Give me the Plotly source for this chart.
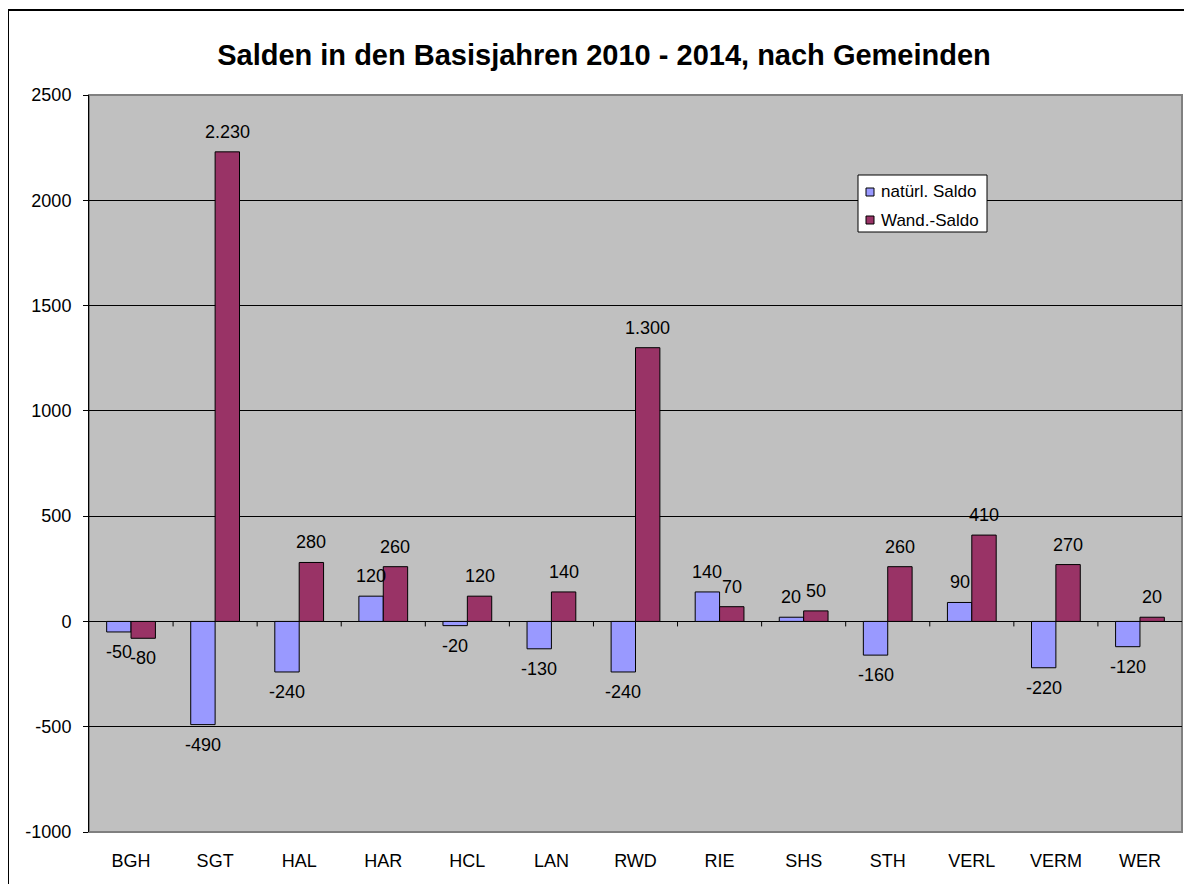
import plotly.graph_objects as go

categories = ["BGH", "SGT", "HAL", "HAR", "HCL", "LAN", "RWD", "RIE", "SHS", "STH", "VERL", "VERM", "WER"]
natuerl_saldo = [-50, -490, -240, 120, -20, -130, -240, 140, 20, -160, 90, -220, -120]
wand_saldo = [-80, 2230, 280, 260, 120, 140, 1300, 70, 50, 260, 410, 270, 20]
y_ticks = [-1000, -500, 0, 500, 1000, 1500, 2000, 2500]
series_names = ["natürl. Saldo", "Wand.-Saldo"]
series_colors = ["#9999FF", "#993366"]

# page is rendered with an 8px body margin
OFF = 8
W, H = 1192 - OFF, 884 - OFF
L, R, T, B = 89 - OFF, 10, 95 - OFF, 52
pw, ph = W - L - R, H - T - B


def px_x(page_x):
    return (page_x - OFF - L) / pw


def px_y(page_y):
    return (H - B - (page_y - OFF)) / ph


def fmt(v):
    s = f"{abs(v):,}".replace(",", ".")
    return ("-" if v < 0 else "") + s


FAM = "Liberation Sans, Arial, sans-serif"
font = dict(family=FAM, size=18, color="black")

fig = go.Figure()
n = len(series_names)
for k, vals in enumerate([natuerl_saldo, wand_saldo]):
    fig.add_trace(go.Bar(
        x=categories, y=vals, name=series_names[k], offsetgroup=str(k),
        marker=dict(color=series_colors[k], line=dict(color="black", width=1)),
        showlegend=False,
    ))

annotations = []
# data labels: bar centers within group (bargap 0.42, two bars)
bw = (1 - 0.42) / n
for k, vals in enumerate([natuerl_saldo, wand_saldo]):
    off = -((1 - 0.42) / 2) + bw * (k + 0.5)
    for i, v in enumerate(vals):
        annotations.append(dict(
            x=i + off, y=v, xref="x", yref="y", text=fmt(v), showarrow=False,
            xanchor="center", yanchor="middle", yshift=20 if v >= 0 else -20,
            font=font,
        ))

shapes = []
# plot area border (gray)
shapes.append(dict(type="rect", xref="paper", yref="paper", x0=0, x1=1, y0=0, y1=1,
                   line=dict(color="#808080", width=2), layer="below"))
# outer chart border
shapes.append(dict(type="rect", xref="paper", yref="paper",
                   x0=px_x(8), x1=px_x(1230), y0=px_y(920), y1=px_y(10),
                   line=dict(color="black", width=2)))
# category tick marks on the zero line
for i in range(len(categories) - 1):
    shapes.append(dict(type="line", xref="x", yref="y", x0=i + 0.5, x1=i + 0.5,
                       ysizemode="pixel", yanchor=0, y0=0, y1=-5,
                       line=dict(color="black", width=1)))

# legend (custom box)
lx0, lx1, ly0, ly1 = 858, 987, 175, 232
shapes.append(dict(type="rect", xref="paper", yref="paper",
                   x0=px_x(lx0), x1=px_x(lx1), y0=px_y(ly1), y1=px_y(ly0),
                   fillcolor="white", line=dict(color="black", width=1)))
row_y = [192, 220]
for k in range(n):
    shapes.append(dict(type="rect", xref="paper", yref="paper",
                       x0=px_x(866), x1=px_x(874), y0=px_y(row_y[k] + 4), y1=px_y(row_y[k] - 4),
                       fillcolor=series_colors[k], line=dict(color="black", width=1)))
    annotations.append(dict(x=px_x(879), y=px_y(row_y[k]), xref="paper", yref="paper",
                            text=series_names[k], showarrow=False, xanchor="left",
                            yanchor="middle", font=dict(family=FAM, size=17, color="black")))

fig.update_layout(
    width=W, height=H,
    margin=dict(l=L, r=R, t=T, b=B),
    paper_bgcolor="white", plot_bgcolor="#C0C0C0",
    font=font,
    barmode="group", bargap=0.42, bargroupgap=0,
    title=dict(text="<b>Salden in den Basisjahren 2010 - 2014, nach Gemeinden</b>",
               x=(604 - OFF) / W, xanchor="center", y=1 - (55 - OFF) / H, yanchor="middle",
               font=dict(family=FAM, size=29, color="black")),
    showlegend=False,
    shapes=shapes,
    annotations=annotations,
)
fig.update_xaxes(showgrid=False, showline=False, zeroline=False,
                 ticks="outside", ticklen=12, tickcolor="rgba(0,0,0,0)",
                 tickfont=font)
fig.update_yaxes(range=[-1000, 2500], tickvals=y_ticks, ticktext=[str(v) for v in y_ticks],
                 showgrid=True, gridcolor="black", gridwidth=1,
                 zeroline=True, zerolinecolor="black", zerolinewidth=1,
                 showline=True, linecolor="black", linewidth=1,
                 ticks="outside", ticklen=5, tickcolor="black",
                 ticklabelstandoff=8, tickfont=font)

fig.write_html("out.html")
